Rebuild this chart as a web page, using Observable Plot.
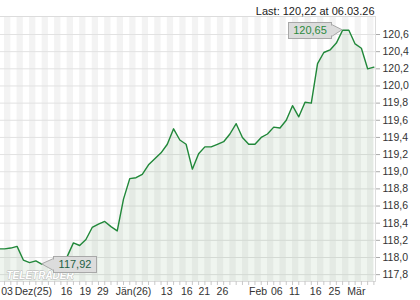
<!DOCTYPE html>
<html><head><meta charset="utf-8">
<script src="https://cdn.jsdelivr.net/npm/d3@7"></script>
<script src="https://cdn.jsdelivr.net/npm/@observablehq/plot@0.6"></script>
<style>body{margin:0;background:#fff;}</style>
</head><body><div id="chart"></div>
<script>
// Daily closes (trading days 03.12.25 – 06.03.26)
const values = [
  118.10, 118.10, 118.11, 118.13, 117.97, 117.94, 117.96, 117.92, 117.94, 117.97,
  117.99, 118.01, 118.17, 118.14, 118.21, 118.35, 118.39, 118.42, 118.36, 118.31,
  118.68, 118.92, 118.93, 118.97, 119.08, 119.15, 119.22, 119.32, 119.50, 119.37,
  119.32, 119.03, 119.21, 119.29, 119.29, 119.32, 119.35, 119.44, 119.56, 119.40,
  119.32, 119.32, 119.40, 119.44, 119.52, 119.51, 119.60, 119.77, 119.64, 119.81,
  119.80, 120.26, 120.39, 120.42, 120.50, 120.65, 120.65, 120.49, 120.44, 120.20,
  120.22
];
const yTicks = [117.8, 118.0, 118.2, 118.4, 118.6, 118.8, 119.0, 119.2, 119.4, 119.6, 119.8, 120.0, 120.2, 120.4, 120.6];
const xTickPos = [1.4, 5.6, 10.9, 13.9, 16.7, 21.6, 26.9, 30.1, 32.9, 35.8, 41.5, 44.5, 47.3, 50.7, 53.7, 57.2];
const xTickLabels = ["03", "Dez(25)", "16", "19", "29", "Jän(26)", "13", "16", "21", "26", "Feb", "06", "11", "16", "25", "Mär"];
const lastLabel = "Last: 120,22 at 06.03.26";
const watermark = "TELETRADER";
const yDomain = [117.72, 120.81];

const data = values.map((v, i) => ({i, v}));
const idx = d3.range(values.length);
const stripes = idx.filter(i => i % 2 === 1);
const labelMap = new Map(xTickPos.map((p, k) => [p, xTickLabels[k]]));
const fmt1 = d => d.toFixed(1).replace(".", ",");
const fmt2 = d => d.toFixed(2).replace(".", ",");
const FONT = "'Liberation Sans', Arial, sans-serif";

const chart = Plot.plot({
  width: 420, height: 300,
  marginLeft: 0, marginRight: 45, marginTop: 16, marginBottom: 19,
  style: {fontFamily: FONT, fontSize: "10.5px", background: "#fff", color: "#333"},
  x: {domain: [0, values.length - 1], range: [-2.2, 373.4], label: null},
  y: {domain: yDomain, label: null},
  marks: [
    Plot.rect(stripes, {x1: d => d, x2: d => d + 1, fill: "#f3f3f3", clip: true}),
    Plot.ruleY(yTicks, {stroke: "#e2e2e2"}),
    Plot.areaY(data, {x: "i", y1: yDomain[0], y2: "v", fill: "#2e7d32", fillOpacity: 0.08, clip: true}),
    Plot.line(data, {x: "i", y: "v", stroke: "#21883a", strokeWidth: 1.4, clip: true}),
    Plot.ruleY([yDomain[1]], {stroke: "#dcdcdc"}),
    Plot.ruleY([yDomain[0]], {stroke: "#dcdcdc"}),
    Plot.frame({anchor: "right", stroke: "#dcdcdc"}),
    Plot.axisY(yTicks, {anchor: "right", label: null, tickSize: 4, tickPadding: 3, tickFormat: fmt1, stroke: "#aaa", fill: "#333"}),
    Plot.axisX(idx, {anchor: "bottom", label: null, tickSize: 4, tickFormat: () => "", stroke: "#c8c8c8"}),
    Plot.axisX(xTickPos, {anchor: "bottom", label: null, tickSize: 0, tickPadding: 6, tickFormat: d => labelMap.get(d), fill: "#333"}),
    Plot.text([lastLabel], {text: d => d, frameAnchor: "top-right", textAnchor: "end", dx: -1, dy: -9, fill: "#222", fontSize: 11}),
    Plot.text([watermark], {text: d => d, frameAnchor: "bottom-left", textAnchor: "start", lineAnchor: "bottom", dx: 6, dy: -3,
      fill: "#fff", stroke: "#b4b4b4", strokeWidth: 0.8, fontWeight: "bold", fontStyle: "italic", fontSize: 10})
  ]
});
document.getElementById("chart").appendChild(chart);

const X = chart.scale("x"), Y = chart.scale("y");
const svg = d3.select(chart);
function callout(i, side, color) {
  const px = X.apply(i), py = Y.apply(values[i]);
  const w = 43, h = 16, gap = 11;
  const bx = Math.round(side === "left" ? px - gap - w : px + gap) + 0.5;
  const by = Math.round(py - h / 2) + 0.5;
  const edge = side === "left" ? bx + w : bx;
  const g = svg.append("g");
  g.append("path")
    .attr("d", `M${edge},${by + 2}L${px},${py}L${edge},${by + h - 2}Z`)
    .attr("fill", "#dcdcdc").attr("stroke", "#a8a8a8");
  g.append("rect").attr("x", bx).attr("y", by).attr("width", w).attr("height", h)
    .attr("fill", "#dcdcdc").attr("stroke", "#a8a8a8");
  g.append("rect").attr("x", edge - 1).attr("y", by + 3).attr("width", 2).attr("height", h - 6).attr("fill", "#dcdcdc");
  g.append("text").attr("x", bx + w / 2).attr("y", by + h / 2).attr("dy", "0.36em")
    .attr("text-anchor", "middle").attr("font-family", FONT).attr("font-size", 11)
    .attr("fill", color).text(fmt2(values[i]));
}
callout(d3.maxIndex(values), "left", "#2b8a3e");
callout(d3.minIndex(values), "right", "#1e6045");
</script>
</body></html>
